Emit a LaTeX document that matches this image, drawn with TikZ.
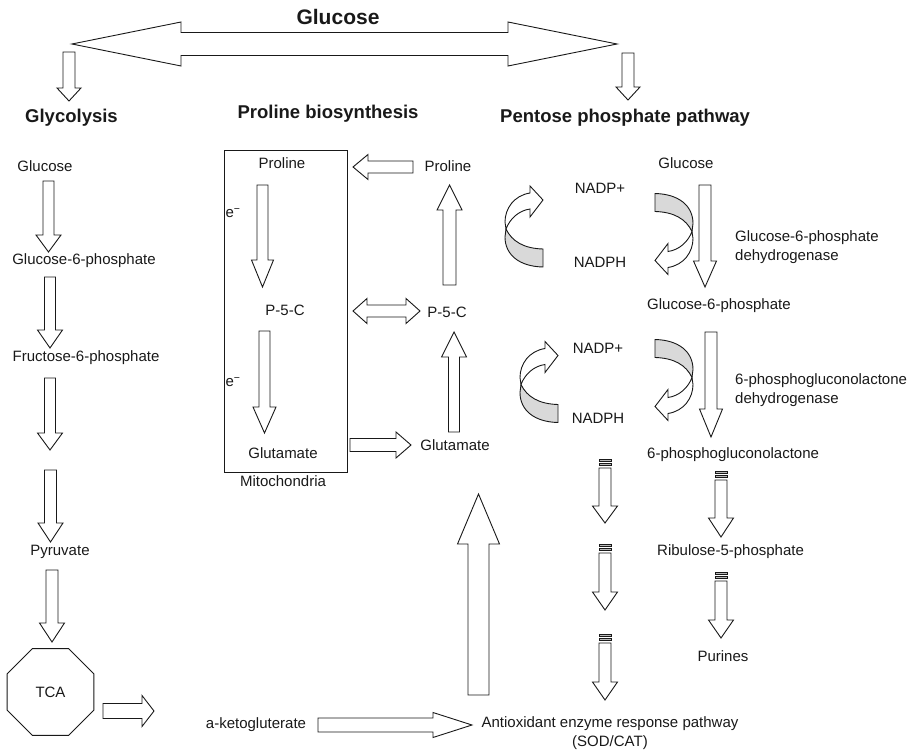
\documentclass[tikz,border=0pt]{standalone}
\usepackage{fontspec}
\setmainfont{Liberation Sans}
\usetikzlibrary{shapes.geometric}
\definecolor{ribgray}{gray}{0.85}
\definecolor{ink}{gray}{0.1}
\tikzset{
 barrow/.style={draw=ink, line width=0.9pt, fill=white, line join=miter},
 lbl/.style={inner sep=0pt, text=ink, font=\fontsize{15}{19}\selectfont},
 hdr/.style={inner sep=0pt, text=ink, font=\bfseries\fontsize{18.5}{22}\selectfont},
 barstyle/.style={draw=ink, line width=0.6pt, fill=gray!55},
 curl/.pic={
  \draw[draw=ink, line width=0.9pt, fill=ribgray] (-18,2.5) .. controls (-12,15) and (0,22) .. (19,22.5) -- (19,40.5) .. controls (-5,40) and (-19,28) .. (-19,10.5) -- cycle;
  \draw[draw=ink, line width=0.9pt, fill=white, line join=miter] (6,-33.5) -- (6,-40.5) -- (19,-26.5) -- (6,-9.5) -- (6,-17.5) .. controls (-5,-16) and (-14,-8) .. (-18,2.5) -- (-19,-4.5) .. controls (-19,-18) and (-10,-31) .. (6,-33.5) -- cycle;
 }
}
% cx, ytop, ytip, shaft half, head half, head length
\newcommand\downarr[6]{\draw[barrow] (#1-#4,#2) -- (#1+#4,#2) -- (#1+#4,#3-#6) -- (#1+#5,#3-#6) -- (#1,#3) -- (#1-#5,#3-#6) -- (#1-#4,#3-#6) -- cycle;}
% cx, ybottom, ytip, shaft half, head half, head length
\newcommand\uparr[6]{\draw[barrow] (#1-#4,#2) -- (#1+#4,#2) -- (#1+#4,#3+#6) -- (#1+#5,#3+#6) -- (#1,#3) -- (#1-#5,#3+#6) -- (#1-#4,#3+#6) -- cycle;}
% cy, xstart, xtip, shaft half, head half, head length
\newcommand\rightarr[6]{\draw[barrow] (#2,#1-#4) -- (#3-#6,#1-#4) -- (#3-#6,#1-#5) -- (#3,#1) -- (#3-#6,#1+#5) -- (#3-#6,#1+#4) -- (#2,#1+#4) -- cycle;}
\newcommand\leftarr[6]{\draw[barrow] (#2,#1-#4) -- (#3+#6,#1-#4) -- (#3+#6,#1-#5) -- (#3,#1) -- (#3+#6,#1+#5) -- (#3+#6,#1+#4) -- (#2,#1+#4) -- cycle;}
% cy, xlefttip, xrighttip, shaft half, head half, head length
\newcommand\dblarr[6]{\draw[barrow] (#2,#1) -- (#2+#6,#1-#5) -- (#2+#6,#1-#4) -- (#3-#6,#1-#4) -- (#3-#6,#1-#5) -- (#3,#1) -- (#3-#6,#1+#5) -- (#3-#6,#1+#4) -- (#2+#6,#1+#4) -- (#2+#6,#1+#5) -- cycle;}
% cx, shaft top, half width
\newcommand\bars[3]{\draw[barstyle] (#1-#3,#2-9) rectangle (#1+#3,#2-6.5); \draw[barstyle] (#1-#3,#2-5) rectangle (#1+#3,#2-2.5);}
\begin{document}
\begin{tikzpicture}[x=1pt,y=-1pt]
\useasboundingbox (0,0) rectangle (910,751);

% title and main double arrow
\node[inner sep=0pt, text=ink, font=\bfseries\fontsize{21}{25}\selectfont] (title) at (338,17) {Glucose};
\dblarr{44}{72}{617}{11.5}{22}{109}
\downarr{69}{52}{101}{6}{12}{13}
\downarr{628}{53}{100}{6}{12}{13}

% headings
\node[hdr, anchor=west] (glyc) at (25,118) {Glycolysis};
\node[hdr] (prob) at (328,114) {Proline biosynthesis};
\node[hdr, anchor=west] (ppp) at (500,118) {Pentose phosphate pathway};

% glycolysis column
\node[lbl] (glc) at (45,166) {Glucose};
\node[lbl] (g6p) at (84,261) {Glucose-6-phosphate};
\node[lbl] (f6p) at (86,358) {Fructose-6-phosphate};
\node[lbl] (pyr) at (60,552) {Pyruvate};
\downarr{48.5}{181}{252}{5.5}{12.5}{17}
\downarr{50}{277}{348}{5.5}{12.5}{18}
\downarr{50}{378}{450}{5.5}{12.5}{17}
\downarr{50.5}{470}{542}{6}{12.5}{19}
\downarr{52}{570}{642}{6}{12.5}{19}
\node[draw=ink, line width=0.9pt, regular polygon, regular polygon sides=8, minimum size=94pt, inner sep=0pt, lbl] (tca) at (50.5,692) {TCA};
\rightarr{711}{103}{154}{7.5}{15.5}{12}

% mitochondria
\node[draw=ink, line width=0.9pt, minimum width=123pt, minimum height=322pt, inner sep=0pt] (mito) at (285.5,311) {};
\node[lbl] (mpro) at (282,163) {Proline};
\node[lbl] (mp5c) at (285,310) {P-5-C};
\node[lbl] (mglu) at (283,453) {Glutamate};
\node[lbl] (e1) at (233,213) {e\textsuperscript{−}};
\node[lbl] (e2) at (233,382) {e\textsuperscript{−}};
\node[lbl] (mitolbl) at (283,481) {Mitochondria};
\downarr{262.5}{185}{287}{5.5}{11}{27}
\downarr{264.5}{331}{433}{5.5}{11.5}{26}

% cytosolic proline cycle
\node[lbl] (opro) at (448,166) {Proline};
\node[lbl] (op5c) at (447,312) {P-5-C};
\node[lbl] (oglu) at (455,445) {Glutamate};
\leftarr{167}{413}{353}{6}{12.5}{15}
\dblarr{311}{353}{420}{6}{12.5}{14}
\rightarr{445}{350}{411}{6.5}{13}{15}
\uparr{449.5}{285}{185}{6.5}{12.5}{25}
\uparr{454}{432}{332}{5.5}{12.5}{25}
\uparr{478.5}{695}{494}{10.5}{21}{50}

% alpha-ketoglutarate and antioxidant
\node[lbl] (akg) at (256,725) {a-ketogluterate};
\rightarr{725}{318}{472}{7}{12.5}{39}
\node[lbl, align=center] (aox) at (610,733) {Antioxidant enzyme response pathway\\(SOD/CAT)};

% NADP cycles
\node[lbl] (nadp1) at (600,188) {NADP+};
\node[lbl] (nadph1) at (600,262) {NADPH};
\node[lbl] (nadp2) at (598,348) {NADP+};
\node[lbl] (nadph2) at (598,418) {NADPH};
\pic at (524,226.5) {curl};
\pic at (539,382) {curl};
\pic[rotate=180] at (674,234) {curl};
\pic[rotate=180] at (674,380) {curl};

% pentose phosphate column
\node[lbl] (pglc) at (686,163) {Glucose};
\node[lbl, anchor=west] (pg6p) at (647,306) {Glucose-6-phosphate};
\node[lbl, anchor=west] (pgl) at (647,455) {6-phosphogluconolactone};
\node[lbl, anchor=west] (ru5p) at (657,552) {Ribulose-5-phosphate};
\node[lbl] (pur) at (723,656) {Purines};
\node[lbl, anchor=west, align=left] (g6pdh) at (735,247) {Glucose-6-phosphate\\dehydrogenase};
\node[lbl, anchor=west, align=left] (pgldh) at (735,390) {6-phosphogluconolactone\\dehydrogenase};
\downarr{705}{185}{287}{6}{11.5}{26}
\downarr{711}{332}{437}{6}{11.5}{28}

% barred arrows
\bars{605}{468}{6}
\downarr{605}{468}{523}{6}{12.5}{17}
\bars{605}{553}{6}
\downarr{605}{553}{610}{6}{12.5}{18}
\bars{605}{643}{6}
\downarr{605}{643}{700}{6}{12.5}{18}
\bars{721}{480}{6}
\downarr{721}{480}{537}{6}{12.5}{19}
\bars{721}{581}{6}
\downarr{721}{581}{638}{6}{12.5}{18}
\end{tikzpicture}
\end{document}
